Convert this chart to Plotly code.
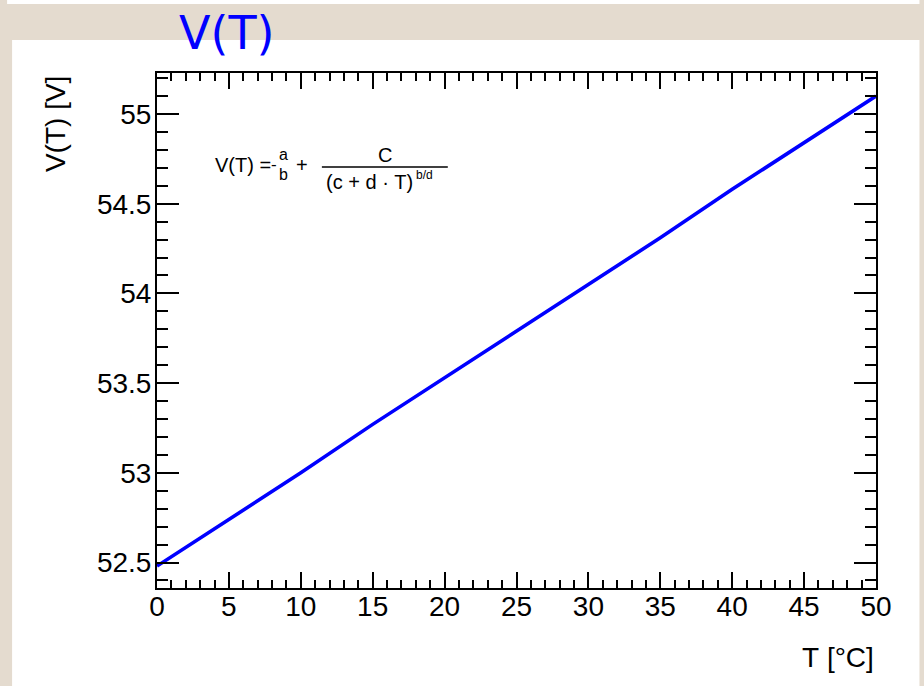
import plotly.graph_objects as go

# Bias voltage as a function of temperature
temperature_c = [0, 5, 10, 15, 20, 25, 30, 35, 40, 45, 50]
voltage_v = [52.48, 52.74, 53.00, 53.27, 53.53, 53.79, 54.05, 54.31, 54.58, 54.84, 55.10]

x_tick_vals = [0, 5, 10, 15, 20, 25, 30, 35, 40, 45, 50]
x_tick_text = ["0", "5", "10", "15", "20", "25", "30", "35", "40", "45", "50"]
y_tick_vals = [52.5, 53.0, 53.5, 54.0, 54.5, 55.0]
y_tick_text = ["52.5", "53", "53.5", "54", "54.5", "55"]

W, H = 924, 686
L, R, T, B = 157, 47.5, 73, 98
PW, PH = W - L - R, H - T - B


def px(x):
    return (x - L) / PW


def py(y):
    return (H - B - y) / PH


FONT = "Liberation Sans, Arial, Helvetica, sans-serif"

fig = go.Figure()
fig.add_trace(go.Scatter(
    x=temperature_c, y=voltage_v, mode="lines",
    line=dict(color="#0000ff", width=3.6),
    showlegend=False, hoverinfo="skip",
))

axis_common = dict(
    showline=True, linecolor="black", linewidth=2, mirror="allticks",
    ticks="inside", tickcolor="black", tickwidth=2,
    showgrid=False, zeroline=False,
    tickfont=dict(family=FONT, size=28, color="black"),
)

fig.update_xaxes(
    range=[0, 50], tickmode="array", tickvals=x_tick_vals, ticktext=x_tick_text,
    ticklen=16, ticklabelstandoff=-8,
    minor=dict(ticks="inside", dtick=1, tick0=0, ticklen=8, tickwidth=1.5, tickcolor="black"),
    **axis_common,
)
fig.update_yaxes(
    range=[52.358, 55.2285], tickmode="array", tickvals=y_tick_vals, ticktext=y_tick_text,
    ticklen=22, ticklabelstandoff=-2,
    minor=dict(ticks="inside", dtick=0.1, tick0=52.5, ticklen=11, tickwidth=1.5, tickcolor="black"),
    **axis_common,
)

shapes = [
    # white canvas panel
    dict(type="rect", xref="paper", yref="paper", layer="below",
         x0=px(12), x1=px(920), y0=py(40), y1=py(700),
         fillcolor="white", line=dict(width=0)),
    dict(type="rect", xref="paper", yref="paper", layer="below",
         x0=px(7), x1=px(920), y0=py(0), y1=py(4),
         fillcolor="white", line=dict(width=0)),
    # main fraction bar of the formula
    dict(type="line", xref="paper", yref="paper",
         x0=px(322), x1=px(448), y0=py(167), y1=py(167),
         line=dict(color="black", width=1.4)),
]

ann = []


def label(text, x, y, size, xanchor="center", color="black", family=FONT, angle=0):
    ann.append(dict(text=text, x=px(x), y=py(y), xref="paper", yref="paper",
                    xanchor=xanchor, yanchor="middle", showarrow=False,
                    textangle=angle,
                    font=dict(family=family, size=size, color=color)))


NB = "\u00a0"
label("V(T)", 227, 33, 46, color="#0000ff", family="DejaVu Sans")
label("V(T)" + NB + "[V]", 55, 124, 28, angle=-90)
label("T" + NB + "[°C]", 877, 657, 28, xanchor="right")
label("V(T)" + NB + "=", 213, 164.5, 20, xanchor="left")
label("-", 274, 164, 17)
label("a", 284, 154, 16)
label("b", 284, 174, 16)
label("+", 302, 165, 20)
label("C", 385, 155, 20)
label("(c" + NB + "+" + NB + "d" + NB + "·" + NB + "T)", 370, 181.5, 20)
label("b/d", 414, 175, 12, xanchor="left")

fig.update_layout(
    width=W, height=H, autosize=False,
    margin=dict(l=L, r=R, t=T, b=B, pad=0),
    paper_bgcolor="#e4dbcf", plot_bgcolor="white",
    shapes=shapes, annotations=ann,
)

fig.write_html("out.html")
